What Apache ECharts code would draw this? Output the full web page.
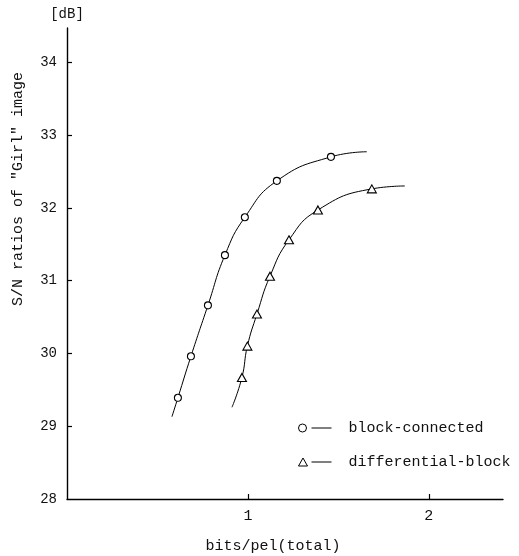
<!DOCTYPE html>
<html>
<head>
<meta charset="utf-8">
<script src="https://cdn.jsdelivr.net/npm/echarts@6/dist/echarts.min.js"></script>
<style>
html,body{margin:0;padding:0;background:#fff;}
#chart{width:519px;height:556px;}
</style>
</head>
<body>
<div id="chart"></div>
<script>
// ---- data ----
var seriesNames = ['block-connected', 'differential-block'];
// block-connected: measured points (bits/pel, dB)
var blockX = [0.613, 0.685, 0.779, 0.873, 0.983, 1.160, 1.459];
var blockY = [29.39, 29.96, 30.66, 31.35, 31.87, 32.37, 32.70];
// ends of the drawn curve (no marker)
var blockCurveStart = [0.580, 29.13];
var blockCurveEnd = [1.657, 32.77];
// differential-block
var diffX = [0.967, 0.997, 1.050, 1.122, 1.227, 1.387, 1.685];
var diffY = [29.67, 30.10, 30.54, 31.06, 31.56, 31.97, 32.26];
var diffCurveStart = [0.912, 29.26];
var diffCurveEnd = [1.867, 32.30];
// ticks
var yTickLabels = [28, 29, 30, 31, 32, 33, 34];
var yTickMarks = [29, 30, 31, 32, 33, 34];
var xTickLabels = [1, 2];
var xTickMarks = [1, 2];

var FONT = '"Liberation Mono", "DejaVu Sans Mono", monospace';

function buildData(xs, ys, start, end) {
  var d = [{ value: start, symbol: 'none' }];
  for (var i = 0; i < xs.length; i++) d.push([xs[i], ys[i]]);
  d.push({ value: end, symbol: 'none' });
  return d;
}

var chart = echarts.init(document.getElementById('chart'), null, { renderer: 'canvas' });
var option = {
  backgroundColor: '#fff',
  animation: false,
  grid: { left: 67, right: 16, top: 28, bottom: 57 },
  xAxis: {
    type: 'value',
    min: 0, max: 2.41,
    axisLine: { show: true, onZero: false, lineStyle: { color: '#000', width: 1.4 } },
    axisTick: { show: true, inside: true, length: 5, customValues: xTickMarks, lineStyle: { color: '#000', width: 1.2 } },
    axisLabel: { customValues: xTickLabels, margin: 10, color: '#111', fontFamily: FONT, fontSize: 15 },
    splitLine: { show: false }
  },
  yAxis: {
    type: 'value',
    min: 28, max: 34.47,
    name: '[dB]',
    nameLocation: 'end',
    nameGap: 7,
    nameTextStyle: { color: '#111', fontFamily: FONT, fontSize: 14, align: 'center' },
    axisLine: { show: true, onZero: false, lineStyle: { color: '#000', width: 1.4 } },
    axisTick: { show: true, inside: true, length: 5, customValues: yTickMarks, lineStyle: { color: '#000', width: 1.2 } },
    axisLabel: { customValues: yTickLabels, margin: 10, color: '#111', fontFamily: FONT, fontSize: 14 },
    splitLine: { show: false }
  },
  legend: {
    orient: 'vertical',
    left: 293,
    top: 415,
    itemWidth: 33,
    itemHeight: 8,
    itemGap: 18,
    textStyle: { color: '#111', fontFamily: FONT, fontSize: 15, padding: [0, 0, 0, 12], lineHeight: 16 },
    data: [
      { name: seriesNames[0], icon: 'path://M0,5 A4,4 0 1,1 8,5 A4,4 0 1,1 0,5 Z M13,5 L33,5',
        itemStyle: { color: '#fff', borderColor: '#000', borderWidth: 1 } },
      { name: seriesNames[1], icon: 'path://M4.5,1 L9,9 L0,9 Z M13,5 L33,5',
        itemStyle: { color: '#fff', borderColor: '#000', borderWidth: 1 } }
    ]
  },
  graphic: [
    { type: 'text', x: 18, y: 189, rotation: Math.PI / 2,
      style: { text: 'S/N ratios of "Girl" image', fill: '#111', font: '15px ' + FONT, align: 'center', verticalAlign: 'middle' } },
    { type: 'text', x: 273, y: 546,
      style: { text: 'bits/pel(total)', fill: '#111', font: '15px ' + FONT, align: 'center', verticalAlign: 'middle' } }
  ],
  series: [
    {
      name: seriesNames[0], type: 'line', smooth: 0.5,
      symbol: 'circle', symbolSize: 7,
      itemStyle: { color: '#fff', borderColor: '#000', borderWidth: 1.1 },
      lineStyle: { color: '#000', width: 1 },
      data: buildData(blockX, blockY, blockCurveStart, blockCurveEnd),
      z: 3
    },
    {
      name: seriesNames[1], type: 'line', smooth: 0.5,
      symbol: 'triangle', symbolSize: [9, 8],
      itemStyle: { color: '#fff', borderColor: '#000', borderWidth: 1.1 },
      lineStyle: { color: '#000', width: 1 },
      data: buildData(diffX, diffY, diffCurveStart, diffCurveEnd),
      z: 3
    }
  ]
};
chart.setOption(option);
</script>
</body>
</html>
